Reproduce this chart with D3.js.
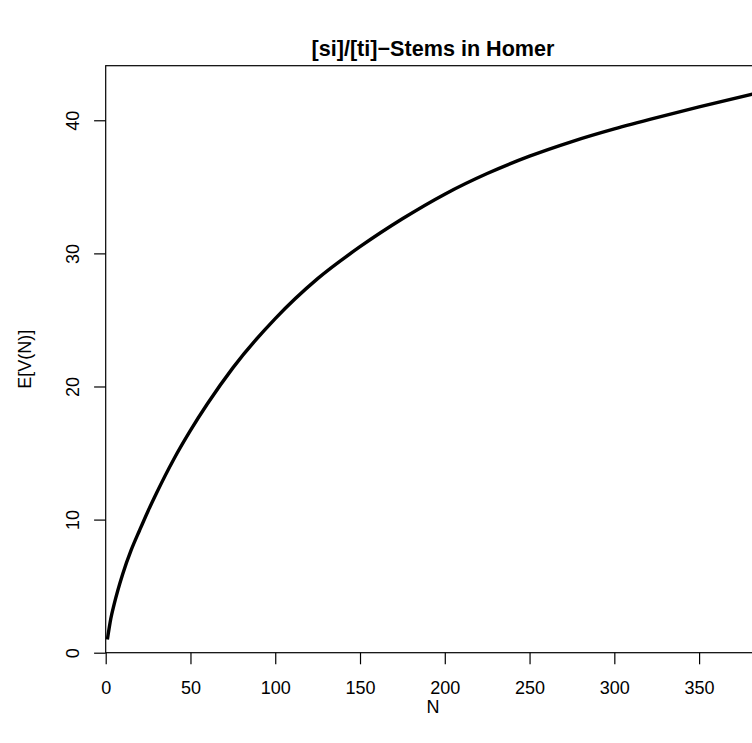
<!DOCTYPE html>
<html>
<head>
<meta charset="utf-8">
<script src="https://cdn.jsdelivr.net/npm/d3@7"></script>
<style>
  body { margin: 0; background: #fff; }
  text { font-family: "Liberation Sans", Arial, Helvetica, sans-serif; fill: #000; }
</style>
</head>
<body>
<div id="chart"></div>
<script>
// sample sizes N and expected vocabulary size E[V(N)]
var sampleN = [1, 3, 5, 10, 15, 20, 25, 30, 40, 50, 60, 75, 100, 125, 150, 175, 200, 225, 250, 275, 300, 325, 350, 386];
var expectedV = [1.0, 2.55, 3.65, 5.9, 7.7, 9.2, 10.65, 12.0, 14.5, 16.7, 18.7, 21.4, 25.1, 28.1, 30.5, 32.6, 34.45, 36.0, 37.3, 38.4, 39.35, 40.2, 41.0, 42.1];
var xTicks = [0, 50, 100, 150, 200, 250, 300, 350];
var yTicks = [0, 10, 20, 30, 40];
var chartTitle = "[si]/[ti]\u2212Stems in Homer";
var xLabel = "N";
var yLabel = "E[V(N)]";

var width = 752, height = 743;
var margin = {top: 65.7, right: -8.3, bottom: 90.3, left: 105.7};

var svg = d3.select("#chart").append("svg")
    .attr("width", width)
    .attr("height", height);

var x = d3.scaleLinear()
    .domain([0, 386.1])
    .range([margin.left, width - margin.right]);

var y = d3.scaleLinear()
    .domain([0, 44.1])
    .range([height - margin.bottom, margin.top]);

var data = sampleN.map(function(n, i) { return {n: n, v: expectedV[i]}; });

// curve
var line = d3.line()
    .x(function(d) { return x(d.n); })
    .y(function(d) { return y(d.v); })
    .curve(d3.curveMonotoneX);

svg.append("path")
    .datum(data)
    .attr("fill", "none")
    .attr("stroke", "#000")
    .attr("stroke-width", 3.4)
    .attr("stroke-linejoin", "round")
    .attr("d", line);

// plot box
svg.append("rect")
    .attr("x", x(0))
    .attr("y", y(44.1))
    .attr("width", x(386.1) - x(0))
    .attr("height", y(0) - y(44.1))
    .attr("fill", "none")
    .attr("stroke", "#000")
    .attr("stroke-width", 1.2);

// axes
var xAxis = svg.append("g")
    .attr("transform", "translate(0," + y(0) + ")")
    .call(d3.axisBottom(x).tickValues(xTicks).tickSize(11.6).tickPadding(5).tickSizeOuter(0));
xAxis.select(".domain").remove();
xAxis.selectAll("line").attr("stroke-width", 1.2);
xAxis.selectAll("text")
    .attr("font-size", 18)
    .attr("y", 41.6)
    .attr("dy", null);

var yAxis = svg.append("g")
    .attr("transform", "translate(" + x(0) + ",0)")
    .call(d3.axisLeft(y).tickValues(yTicks).tickSize(11.6).tickSizeOuter(0));
yAxis.select(".domain").remove();
yAxis.selectAll("line").attr("stroke-width", 1.2);
yAxis.selectAll("text")
    .attr("font-size", 18)
    .attr("x", null)
    .attr("dy", null)
    .attr("text-anchor", "middle")
    .attr("transform", "translate(-26.7,0) rotate(-90)");

// labels
svg.append("text")
    .attr("x", (x(0) + x(386.1)) / 2)
    .attr("y", 56)
    .attr("text-anchor", "middle")
    .attr("font-size", 21.6)
    .attr("font-weight", "bold")
    .text(chartTitle);

svg.append("text")
    .attr("x", (x(0) + x(386.1)) / 2)
    .attr("y", 713)
    .attr("text-anchor", "middle")
    .attr("font-size", 18)
    .text(xLabel);

svg.append("text")
    .attr("transform", "translate(31,"+ (y(0) + y(44.1)) / 2 + ") rotate(-90)")
    .attr("text-anchor", "middle")
    .attr("font-size", 18)
    .text(yLabel);
</script>
</body>
</html>
